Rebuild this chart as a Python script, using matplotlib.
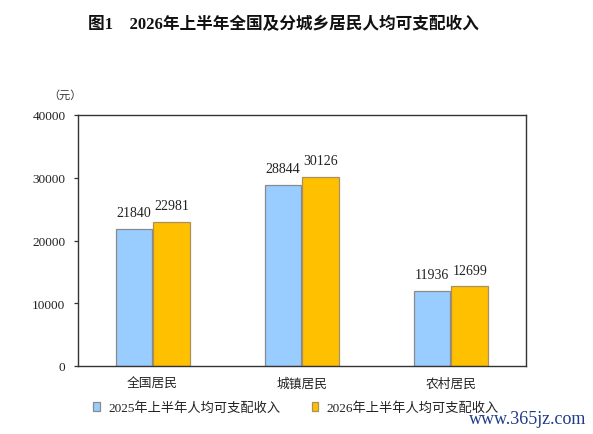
import matplotlib
matplotlib.use("Agg")
import matplotlib.pyplot as plt
import numpy as np

categories = ["全国居民", "城镇居民", "农村居民"]
series_names = ["2025年上半年人均可支配收入", "2026年上半年人均可支配收入"]
values_2025 = [21840, 28844, 11936]
values_2026 = [22981, 30126, 12699]
yticks = [0, 10000, 20000, 30000, 40000]
title = "图1    2026年上半年全国及分城乡居民人均可支配收入"
unit = "（元）"
watermark = "www.365jz.com"

MIX = ["Liberation Serif", "Noto Sans CJK SC", "DejaVu Sans"]
CJK = ["Noto Sans CJK SC", "DejaVu Sans"]

fig = plt.figure(figsize=(5.93, 4.35), dpi=100)
ax = fig.add_axes([78 / 593, 68 / 435, 447.5 / 593, 251 / 435])

x = np.arange(len(categories))
w = 0.245
off = 0.126
b1 = ax.bar(x - off, values_2025, w, color="#99CCFF", edgecolor="#8a8a8a", linewidth=0.9,
            label=series_names[0], zorder=2)
b2 = ax.bar(x + off, values_2026, w, color="#FFC000", edgecolor="#a89060", linewidth=0.9,
            label=series_names[1], zorder=2)

for bars in (b1, b2):
    for r in bars:
        ax.annotate(f"{int(r.get_height())}", (r.get_x() + r.get_width() / 2, r.get_height()),
                    xytext=(0, 7), textcoords="offset points", ha="center", va="bottom",
                    fontsize=10, family=MIX, color="#222222")

ax.set_xlim(-0.5, 2.5)
ax.set_ylim(0, 40000)
ax.set_yticks(yticks)
ax.set_yticklabels([str(v) for v in yticks], family=MIX, fontsize=9.5, color="#222222")
ax.set_xticks(x)
ax.set_xticklabels(categories, family=CJK, fontsize=9.2, color="#222222")
ax.tick_params(axis="x", length=0, pad=8)
ax.tick_params(axis="y", length=3, width=0.9, direction="out", pad=6, color="#333333")
for s in ax.spines.values():
    s.set_color("#333333")
    s.set_linewidth(1.0)

fig.text(283.7 / 593, 1 - 25 / 435, title, ha="center", va="center", fontsize=12,
         fontweight="bold", family=MIX, color="#111111")
fig.text(65 / 593, 1 - 95 / 435, unit, ha="center", va="center", fontsize=8,
         family=CJK, color="#333333")

leg = ax.legend(handles=[b1, b2], loc="center", bbox_to_anchor=(296 / 593, 1 - 409 / 435),
                bbox_transform=fig.transFigure, ncol=2, frameon=False,
                handlelength=0.5, handleheight=0.7, handletextpad=0.6, columnspacing=2.4,
                borderpad=0, prop={"family": MIX, "size": 9.5})
for t in leg.get_texts():
    t.set_color("#222222")

fig.text(528 / 593, 1 - 420 / 435, watermark, ha="center", va="center", fontsize=13,
         family="Liberation Serif", color="#1f3c88")

fig.savefig("out.png", dpi=100)
